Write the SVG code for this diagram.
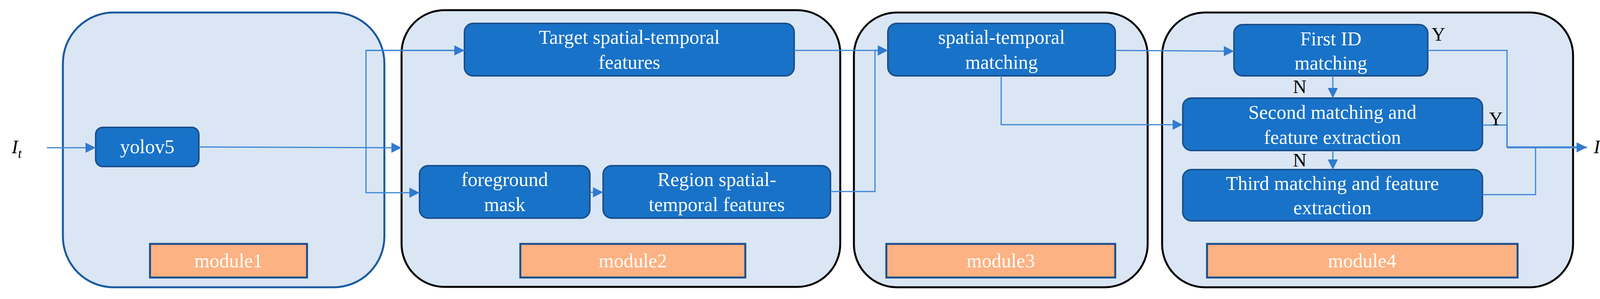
<svg xmlns="http://www.w3.org/2000/svg" width="4167" height="765" viewBox="0 0 4167 765">
<defs>
<style>
.mod{fill:#dae6f4;stroke:#000;stroke-width:5}
.node{fill:#1872c8;stroke:#1b4f8c;stroke-width:4}
.lab{fill:#fcb282;stroke:#1b4f8c;stroke-width:5}
.t{font-family:'Liberation Serif',serif;font-size:50px;fill:#fff;text-anchor:middle}
.k{font-family:'Liberation Serif',serif;font-size:48px;fill:#000}
.c{fill:none;stroke:#3d85d4;stroke-width:3}
</style>
<marker id="b" viewBox="0 0 10 10" refX="10" refY="5" markerWidth="26" markerHeight="26" markerUnits="userSpaceOnUse" orient="auto"><path d="M0,0L10,5L0,10z" fill="#2f7bd0"/></marker>
</defs>
<g id="module1"><rect class="mod" x="161" y="32" width="823" height="703" rx="130" style="stroke:#1b5aa0"/><rect class="lab" x="384" y="624" width="402" height="86"/><text class="t" font-family="Liberation Serif, serif" x="585" y="684">module1</text></g>
<g id="module2"><rect class="mod" x="1028" y="26" width="1123" height="708" rx="110"/><rect class="lab" x="1332" y="624" width="576" height="86"/><text class="t" font-family="Liberation Serif, serif" x="1620" y="684">module2</text></g>
<g id="module3"><rect class="mod" x="2186" y="32" width="752" height="703" rx="110"/><rect class="lab" x="2269" y="624" width="586" height="86"/><text class="t" font-family="Liberation Serif, serif" x="2562" y="684">module3</text></g>
<g id="module4"><rect class="mod" x="2975" y="32" width="1052" height="703" rx="110"/><rect class="lab" x="3090" y="624" width="795" height="86"/><text class="t" font-family="Liberation Serif, serif" x="3487" y="684">module4</text></g>
<g id="yolov5"><rect class="node" x="245" y="326" width="264" height="100" rx="18"/><text class="t" font-family="Liberation Serif, serif" x="377" y="392">yolov5</text></g>
<g id="target"><rect class="node" x="1189" y="60" width="844" height="134" rx="22"/><text class="t" font-family="Liberation Serif, serif" x="1611" y="112">Target spatial-temporal</text><text class="t" font-family="Liberation Serif, serif" x="1611" y="176">features</text></g>
<g id="foreground"><rect class="node" x="1074" y="424" width="436" height="134" rx="22"/><text class="t" font-family="Liberation Serif, serif" x="1292" y="476">foreground</text><text class="t" font-family="Liberation Serif, serif" x="1292" y="540">mask</text></g>
<g id="region"><rect class="node" x="1544" y="424" width="582" height="134" rx="22"/><text class="t" font-family="Liberation Serif, serif" x="1835" y="476">Region spatial-</text><text class="t" font-family="Liberation Serif, serif" x="1835" y="540">temporal  features</text></g>
<g id="matching"><rect class="node" x="2273" y="60" width="582" height="134" rx="22"/><text class="t" font-family="Liberation Serif, serif" x="2564" y="112">spatial-temporal</text><text class="t" font-family="Liberation Serif, serif" x="2564" y="176">matching</text></g>
<g id="first"><rect class="node" x="3159" y="63" width="496" height="131" rx="22"/><text class="t" font-family="Liberation Serif, serif" x="3407" y="116">First ID</text><text class="t" font-family="Liberation Serif, serif" x="3407" y="178">matching</text></g>
<g id="second"><rect class="node" x="3028" y="251" width="767" height="134" rx="22"/><text class="t" font-family="Liberation Serif, serif" x="3411" y="304">Second matching and</text><text class="t" font-family="Liberation Serif, serif" x="3411" y="368">feature extraction</text></g>
<g id="third"><rect class="node" x="3028" y="434" width="767" height="131" rx="22"/><text class="t" font-family="Liberation Serif, serif" x="3411" y="486">Third matching and feature</text><text class="t" font-family="Liberation Serif, serif" x="3411" y="548">extraction</text></g>
<g id="connectors">
<path class="c" d="M120,378H245" marker-end="url(#b)"/>
<path class="c" d="M509,376L1028,378" marker-end="url(#b)"/>
<path class="c" d="M1189,129H937V493H1074" marker-end="url(#b)"/>
<path class="c" d="M937,129H1189" marker-end="url(#b)"/>
<path class="c" d="M1510,492H1544" marker-end="url(#b)"/>
<path class="c" d="M2126,490H2240V129H2273" marker-end="url(#b)"/>
<path class="c" d="M2033,129H2273" marker-end="url(#b)"/>
<path class="c" d="M2855,129L3159,131" marker-end="url(#b)"/>
<path class="c" d="M2563,194V319H3028" marker-end="url(#b)"/>
<path class="c" d="M3412,194V251" marker-end="url(#b)"/>
<path class="c" d="M3412,385V434" marker-end="url(#b)"/>
<path class="c" d="M3655,129H3858V377"/>
<path class="c" d="M3795,320H3858V377"/>
<path class="c" d="M3795,498H3931V377"/>
<path class="c" d="M3858,377H4062" style="stroke-width:5" marker-end="url(#b)"/>
</g>
<text class="k" font-family="Liberation Serif, serif" x="30" y="392" font-style="italic">I<tspan font-size="34" dy="12">t</tspan></text>
<text class="k" font-family="Liberation Serif, serif" x="4080" y="392" font-style="italic">ID<tspan font-size="34" dy="12">t</tspan></text>
<text class="k" font-family="Liberation Serif, serif" x="3665" y="104">Y</text>
<text class="k" font-family="Liberation Serif, serif" x="3812" y="320">Y</text>
<text class="k" font-family="Liberation Serif, serif" x="3310" y="238">N</text>
<text class="k" font-family="Liberation Serif, serif" x="3310" y="426">N</text>
</svg>
